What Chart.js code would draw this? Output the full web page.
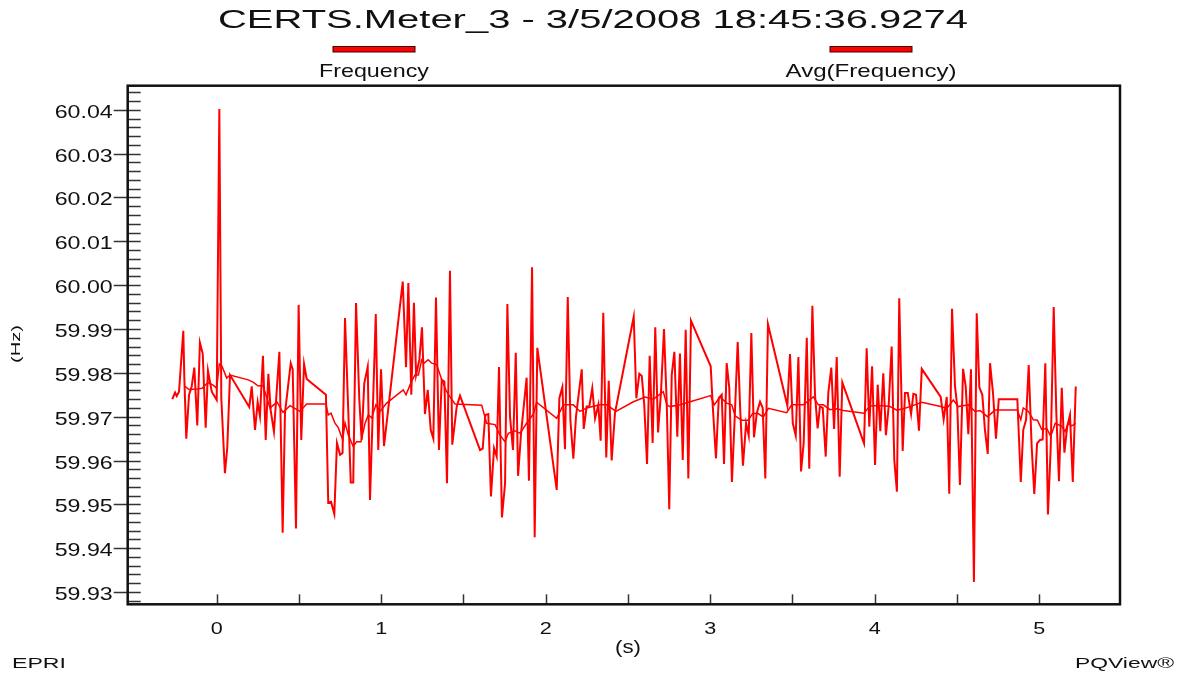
<!DOCTYPE html>
<html>
<head>
<meta charset="utf-8">
<script src="https://cdn.jsdelivr.net/npm/chart.js@4"></script>
<style>
  html, body { margin: 0; padding: 0; background: #fff; }
  #grafico { display: block; }
</style>
</head>
<body>
<canvas id="grafico" width="1180" height="678"></canvas>
<script>
const titulo = 'CERTS.Meter_3 - 3/5/2008 18:45:36.9274'
const seriesNames = ['Frequency', 'Avg(Frequency)']
const xTickValues = [0, 1, 2, 3, 4, 5]
const xMinorValues = [0.5, 1.5, 2.5, 3.5, 4.5]
const yTickValues = [59.93, 59.94, 59.95, 59.96, 59.97, 59.98, 59.99, 60.00, 60.01, 60.02, 60.03, 60.04]

// Frequency (Hz) vs time (s)
const freqSeconds = [
  -0.270, -0.253, -0.243, -0.229, -0.203, -0.197, -0.185, -0.168, -0.152, -0.136, -0.118, -0.102, -0.085, -0.067, -0.053, -0.030,
  0.000, 0.016, 0.028, 0.050, 0.064, 0.081, 0.198, 0.213, 0.233, 0.249, 0.263, 0.281, 0.298, 0.314, 0.328, 0.348,
  0.381, 0.401, 0.415, 0.450, 0.462, 0.482, 0.498, 0.514, 0.531, 0.547, 0.664, 0.678, 0.695, 0.715, 0.731, 0.750,
  0.765, 0.780, 0.815, 0.830, 0.847, 0.867, 0.881, 0.897, 0.918, 0.932, 0.967, 0.982, 0.999, 1.017,
  1.131, 1.151, 1.165, 1.183, 1.199, 1.212, 1.232, 1.248, 1.266, 1.283, 1.301, 1.317, 1.333, 1.351, 1.368, 1.384,
  1.400, 1.418, 1.432, 1.459, 1.479, 1.601, 1.617, 1.633, 1.651, 1.667, 1.686, 1.702, 1.716, 1.734, 1.753, 1.767,
  1.783, 1.801, 1.818, 1.832, 1.850, 1.884, 1.898, 1.917, 1.933, 1.949,
  2.067, 2.083, 2.101, 2.117, 2.134, 2.150, 2.168, 2.184, 2.219, 2.231, 2.249, 2.265, 2.283, 2.300, 2.320, 2.334,
  2.350, 2.368, 2.383, 2.401, 2.421, 2.535, 2.551, 2.569, 2.584, 2.599, 2.616, 2.632, 2.650, 2.666, 2.683, 2.701,
  2.719, 2.736, 2.751, 2.766, 2.782, 2.800, 2.816, 2.833, 2.851, 2.867, 2.883,
  3.003, 3.015, 3.035, 3.052, 3.070, 3.084, 3.100, 3.116, 3.132, 3.150, 3.167, 3.183, 3.199, 3.218, 3.234, 3.250,
  3.266, 3.283, 3.303, 3.319, 3.335, 3.351, 3.469, 3.485, 3.502, 3.520, 3.536, 3.552, 3.568, 3.587, 3.602, 3.621,
  3.637, 3.653, 3.667, 3.684, 3.702, 3.718, 3.736, 3.753, 3.769, 3.787, 3.803, 3.935, 3.951, 3.967, 3.984,
  4.002, 4.018, 4.034, 4.052, 4.068, 4.084, 4.103, 4.119, 4.135, 4.149, 4.170, 4.184, 4.201, 4.221, 4.235, 4.251,
  4.269, 4.286, 4.401, 4.419, 4.438, 4.453, 4.470, 4.488, 4.502, 4.518, 4.537, 4.553, 4.569, 4.585, 4.603, 4.620,
  4.636, 4.654, 4.670, 4.687, 4.701, 4.719, 4.737, 4.754, 4.867, 4.888, 4.903, 4.920, 4.936, 4.954, 4.970, 4.987,
  5.005, 5.021, 5.037, 5.053, 5.070, 5.088, 5.104, 5.120, 5.137, 5.153, 5.170, 5.187, 5.204, 5.222
]
const freqHz = [
  59.9740, 59.9755, 59.9747, 59.9757, 59.9896, 59.9791, 59.9650, 59.9750, 59.9769, 59.9812, 59.9680, 59.9869, 59.9844, 59.9675, 59.9805, 59.9757,
  59.9738, 60.0402, 59.9742, 59.9571, 59.9628, 59.9795, 59.9722, 59.9769, 59.9670, 59.9733, 59.9701, 59.9839, 59.9647, 59.9798, 59.9715, 59.9666,
  59.9848, 59.9435, 59.9708, 59.9822, 59.9808, 59.9445, 59.9955, 59.9647, 59.9820, 59.9786, 59.9750, 59.9504, 59.9506, 59.9478, 59.9640, 59.9613,
  59.9617, 59.9925, 59.9550, 59.9550, 59.9959, 59.9738, 59.9647, 59.9776, 59.9814, 59.9510, 59.9934, 59.9624, 59.9808, 59.9633,
  60.0008, 59.9813, 60.0005, 59.9750, 59.9960, 59.9795, 59.9830, 59.9904, 59.9706, 59.9761, 59.9670, 59.9650, 59.9972, 59.9624, 59.9784, 59.9780,
  59.9548, 60.0033, 59.9636, 59.9723, 59.9748, 59.9624, 59.9627, 59.9704, 59.9706, 59.9518, 59.9628, 59.9609, 59.9813, 59.9470, 59.9548, 59.9957,
  59.9700, 59.9624, 59.9846, 59.9565, 59.9662, 59.9789, 59.9554, 60.0041, 59.9425, 59.9857,
  59.9533, 59.9742, 59.9767, 59.9626, 59.9973, 59.9693, 59.9604, 59.9700, 59.9808, 59.9672, 59.9723, 59.9723, 59.9765, 59.9696, 59.9727, 59.9645,
  59.9937, 59.9607, 59.9782, 59.9600, 59.9708, 59.9928, 59.9742, 59.9798, 59.9793, 59.9727, 59.9592, 59.9839, 59.9640, 59.9904, 59.9664, 59.9757,
  59.9900, 59.9727, 59.9489, 59.9795, 59.9848, 59.9654, 59.9844, 59.9601, 59.9898, 59.9559, 59.9919,
  59.9815, 59.9727, 59.9605, 59.9743, 59.9750, 59.9592, 59.9822, 59.9765, 59.9551, 59.9708, 59.9870, 59.9710, 59.9588, 59.9685, 59.9657, 59.9891,
  59.9653, 59.9708, 59.9734, 59.9720, 59.9559, 59.9911, 59.9725, 59.9843, 59.9685, 59.9657, 59.9836, 59.9575, 59.9639, 59.9880, 59.9581, 59.9953,
  59.9750, 59.9673, 59.9723, 59.9720, 59.9609, 59.9755, 59.9812, 59.9672, 59.9836, 59.9563, 59.9778, 59.9639, 59.9856, 59.9677, 59.9815,
  59.9590, 59.9773, 59.9667, 59.9799, 59.9658, 59.9720, 59.9860, 59.9601, 59.9529, 59.9970, 59.9622, 59.9754, 59.9754, 59.9706, 59.9752, 59.9750,
  59.9668, 59.9809, 59.9745, 59.9694, 59.9745, 59.9524, 59.9946, 59.9769, 59.9723, 59.9544, 59.9809, 59.9769, 59.9660, 59.9808, 59.9323, 59.9936,
  59.9767, 59.9750, 59.9670, 59.9615, 59.9822, 59.9754, 59.9650, 59.9740, 59.9740, 59.9551, 59.9670, 59.9693, 59.9818, 59.9632, 59.9524, 59.9639,
  59.9647, 59.9648, 59.9822, 59.9477, 59.9632, 59.9950, 59.9708, 59.9553, 59.9766, 59.9618, 59.9677, 59.9704, 59.9551, 59.9769
]

// Avg(Frequency)
const avgSeconds = [
  -0.193, -0.168, -0.120, -0.089, -0.053, -0.022, 0.000, 0.016, 0.032, 0.061, 0.081, 0.192, 0.221, 0.253, 0.281, 0.324,
  0.367, 0.403, 0.446, 0.506, 0.547, 0.664, 0.678, 0.695, 0.719, 0.739, 0.766, 0.780, 0.800, 0.830, 0.851, 0.877,
  0.902, 0.922, 0.942, 0.968, 0.993, 1.033, 1.134, 1.151, 1.179, 1.205, 1.226, 1.246, 1.260, 1.286, 1.307, 1.337,
  1.368, 1.394, 1.418, 1.449, 1.611, 1.641, 1.692, 1.722, 1.753, 1.773, 1.813, 1.844, 1.884, 1.925, 1.945,
  2.067, 2.107, 2.168, 2.209, 2.249, 2.330, 2.371, 2.427, 2.533, 2.604, 2.654, 2.715, 2.736, 2.756, 2.817, 2.878,
  3.003, 3.024, 3.060, 3.100, 3.131, 3.151, 3.191, 3.231, 3.258, 3.292, 3.323, 3.353, 3.465, 3.495, 3.566, 3.627,
  3.657, 3.688, 3.728, 3.769, 3.809, 3.935, 3.971, 4.052, 4.093, 4.134, 4.174, 4.214, 4.286, 4.401, 4.438, 4.478,
  4.508, 4.569, 4.610, 4.640, 4.685, 4.732, 4.867, 4.888, 4.903, 4.934, 4.964, 4.989, 5.015, 5.046, 5.070, 5.097,
  5.137, 5.157, 5.177, 5.198, 5.222
]
const avgHz = [
  59.9769, 59.9762, 59.9763, 59.9765, 59.9778, 59.9772, 59.9765, 59.9820, 59.9815, 59.9788, 59.9795, 59.9784, 59.9779, 59.9770, 59.9771, 59.9720,
  59.9733, 59.9710, 59.9725, 59.9712, 59.9729, 59.9729, 59.9704, 59.9708, 59.9685, 59.9675, 59.9647, 59.9686, 59.9658, 59.9632, 59.9643, 59.9643,
  59.9685, 59.9704, 59.9697, 59.9727, 59.9712, 59.9731, 59.9761, 59.9750, 59.9776, 59.9795, 59.9795, 59.9829, 59.9822, 59.9830, 59.9822, 59.9819,
  59.9784, 59.9760, 59.9745, 59.9729, 59.9726, 59.9685, 59.9682, 59.9658, 59.9643, 59.9662, 59.9668, 59.9662, 59.9685, 59.9706, 59.9733,
  59.9696, 59.9727, 59.9727, 59.9712, 59.9720, 59.9727, 59.9727, 59.9712, 59.9734, 59.9745, 59.9740, 59.9757, 59.9727, 59.9723, 59.9727, 59.9734,
  59.9748, 59.9727, 59.9745, 59.9731, 59.9727, 59.9702, 59.9692, 59.9692, 59.9707, 59.9707, 59.9699, 59.9719, 59.9709, 59.9727, 59.9727, 59.9745,
  59.9727, 59.9727, 59.9716, 59.9718, 59.9714, 59.9708, 59.9725, 59.9725, 59.9723, 59.9715, 59.9718, 59.9723, 59.9733, 59.9723, 59.9719, 59.9738,
  59.9723, 59.9727, 59.9712, 59.9714, 59.9700, 59.9715, 59.9715, 59.9693, 59.9720, 59.9712, 59.9693, 59.9692, 59.9671, 59.9673, 59.9655, 59.9685,
  59.9678, 59.9666, 59.9685, 59.9679, 59.9685
]

const canvas = document.querySelector('#grafico')
const fuente = '"Liberation Sans", Arial, sans-serif'
const tinta = '#111'

// stretched text, like the original export (wide glyphs)
const texto = (ctx, str, x, y, size, ancho, align, baseline) => {
  ctx.save()
  ctx.font = `${size}px ${fuente}`
  const natural = ctx.measureText(str).width
  const sx = ancho ? ancho / natural : 1
  ctx.translate(x, y)
  ctx.scale(sx, 1)
  ctx.textAlign = align || 'center'
  ctx.textBaseline = baseline || 'alphabetic'
  ctx.fillStyle = tinta
  ctx.fillText(str, 0, 0)
  ctx.restore()
}

const fondo = {
  id: 'fondo',
  beforeDraw: (chart) => {
    const ctx = chart.ctx
    ctx.save()
    ctx.fillStyle = '#fff'
    ctx.fillRect(0, 0, chart.width, chart.height)
    ctx.restore()
  }
}

const marco = {
  id: 'marco',
  afterDraw: (chart) => {
    const ctx = chart.ctx
    const {left, right, top, bottom} = chart.chartArea
    const xs = chart.scales.x
    const ys = chart.scales.y

    ctx.save()
    // minor y ticks (every 0.002), inside the plot
    ctx.strokeStyle = '#333'
    ctx.lineWidth = 1.5
    for (let k = 0; k <= 58; k++) {
      const py = Math.round(ys.getPixelForValue(59.928 + k * 0.002)) + 0.5
      if (py < top || py > bottom) continue
      ctx.beginPath()
      ctx.moveTo(left, py)
      ctx.lineTo(left + 13, py)
      ctx.stroke()
    }
    // major y ticks, outside
    yTickValues.forEach(v => {
      const py = Math.round(ys.getPixelForValue(v)) + 0.5
      ctx.beginPath()
      ctx.moveTo(left - 14, py)
      ctx.lineTo(left, py)
      ctx.stroke()
      texto(ctx, v.toFixed(2), left - 15, py + 7.5, 19, 58, 'right')
    })
    // x ticks, inside from the bottom
    xTickValues.concat(xMinorValues).forEach(v => {
      const px = Math.round(xs.getPixelForValue(v)) + 0.5
      ctx.beginPath()
      ctx.moveTo(px, bottom)
      ctx.lineTo(px, bottom - 10)
      ctx.stroke()
    })
    xTickValues.forEach(v => {
      const px = xs.getPixelForValue(v)
      texto(ctx, String(v), px, 633.5, 17, 12, 'center')
    })

    // frame
    ctx.strokeStyle = tinta
    ctx.lineWidth = 2.5
    ctx.strokeRect(left, top, right - left, bottom - top)

    // title and legend
    texto(ctx, titulo, 593, 28, 25.6, 750, 'center')
    const legendX = [374, 871]
    const legendW = [110, 171]
    seriesNames.forEach((name, i) => {
      ctx.fillStyle = '#ff0000'
      ctx.strokeStyle = '#3a0000'
      ctx.lineWidth = 1
      ctx.fillRect(legendX[i] - 41, 46.5, 82, 5.5)
      ctx.strokeRect(legendX[i] - 41, 46.5, 82, 5.5)
      texto(ctx, name, legendX[i], 76.6, 18.6, legendW[i], 'center')
    })

    // axis titles
    ctx.save()
    ctx.translate(16.7, 344)
    ctx.rotate(-Math.PI / 2)
    texto(ctx, '(Hz)', 0, 0, 12, 38, 'center', 'middle')
    ctx.restore()
    texto(ctx, '(s)', 628, 648, 19, 26, 'center', 'middle')

    // footer
    texto(ctx, 'EPRI', 12, 668, 14, 54, 'left')
    texto(ctx, 'PQView\u00AE', 1174, 668, 14, 99, 'right')
    ctx.restore()
  }
}

const serie = (xs, ys) => xs.map((t, i) => ({x: t, y: ys[i]}))

const chart = new Chart(canvas, {
  type: 'scatter',
  data: {
    datasets: [{
      label: seriesNames[0],
      data: serie(freqSeconds, freqHz),
      showLine: true,
      borderColor: '#ff0000',
      borderWidth: 2,
      pointRadius: 0,
      tension: 0
    }, {
      label: seriesNames[1],
      data: serie(avgSeconds, avgHz),
      showLine: true,
      borderColor: '#ff0000',
      borderWidth: 1.5,
      pointRadius: 0,
      tension: 0
    }]
  },
  options: {
    responsive: false,
    animation: false,
    devicePixelRatio: 1,
    layout: { padding: { top: 85.7, right: 60, left: 0, bottom: 0 } },
    plugins: {
      legend: { display: false },
      title: { display: false },
      tooltip: { enabled: false }
    },
    scales: {
      x: {
        type: 'linear',
        min: -0.541,
        max: 5.491,
        grid: { display: false },
        border: { display: false },
        ticks: { display: false },
        afterFit: (s) => { s.height = 73.7 }
      },
      y: {
        type: 'linear',
        min: 59.9272,
        max: 60.0455,
        grid: { display: false },
        border: { display: false },
        ticks: { display: false },
        afterFit: (s) => { s.width = 127.7 }
      }
    }
  },
  plugins: [fondo, marco]
})
</script>
</body>
</html>
